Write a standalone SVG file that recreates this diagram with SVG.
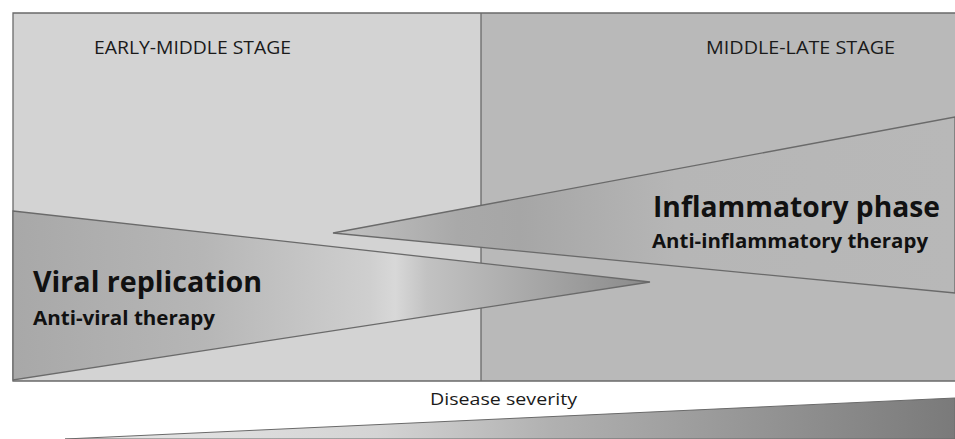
<svg xmlns="http://www.w3.org/2000/svg" width="955" height="439" viewBox="0 0 955 439">
<defs>
<linearGradient id="gViral" gradientUnits="userSpaceOnUse" x1="13" y1="0" x2="650" y2="0">
<stop offset="0" stop-color="#a8a8a8"/>
<stop offset="0.3" stop-color="#b6b6b6"/>
<stop offset="0.56" stop-color="#cfcfcf"/>
<stop offset="0.6" stop-color="#d8d8d8"/>
<stop offset="0.65" stop-color="#c2c2c2"/>
<stop offset="1" stop-color="#8a8a8a"/>
</linearGradient>
<linearGradient id="gInfl" gradientUnits="userSpaceOnUse" x1="333" y1="0" x2="955" y2="0">
<stop offset="0" stop-color="#c2c2c2"/>
<stop offset="0.2" stop-color="#a9a9a9"/>
<stop offset="0.3" stop-color="#a6a6a6"/>
<stop offset="0.55" stop-color="#b6b6b6"/>
<stop offset="1" stop-color="#b8b8b8"/>
</linearGradient>
<linearGradient id="gSev" gradientUnits="userSpaceOnUse" x1="65" y1="0" x2="955" y2="0">
<stop offset="0" stop-color="#e8e8e8"/>
<stop offset="0.35" stop-color="#d4d4d4"/>
<stop offset="0.55" stop-color="#b0b0b0"/>
<stop offset="1" stop-color="#7a7a7a"/>
</linearGradient>
<style>
.edge{stroke:#6a6a6a;stroke-width:1.3}
.stage{font-family:"Open Sans","Liberation Sans",sans-serif;font-size:19px;fill:#1a1a1a}
.big{font-family:"Open Sans","Liberation Sans",sans-serif;font-weight:bold;font-size:28px;fill:#111}
.sub{font-family:"Open Sans","Liberation Sans",sans-serif;font-weight:bold;font-size:19px;fill:#111}
.sev{font-family:"Open Sans","Liberation Sans",sans-serif;font-size:17px;fill:#1a1a1a}
</style>
</defs>
<rect width="955" height="439" fill="#ffffff"/>
<g id="early-panel">
<rect x="13" y="13" width="468" height="368" fill="#d3d3d3"/>
</g>
<g id="late-panel">
<rect x="481" y="13" width="474" height="368" fill="#b9b9b9"/>
</g>
<g id="frame">
<path d="M955 13 H13 V381 H955" fill="none" class="edge"/>
<line x1="481" y1="13" x2="481" y2="381" class="edge"/>
</g>
<g id="inflammatory">
<polygon points="333,233 955,117 955,293" fill="url(#gInfl)" class="edge"/>
</g>
<g id="viral">
<polygon points="13,211 650,282 13,380" fill="url(#gViral)" class="edge"/>
</g>
<g id="labels">
<text x="94" y="54" class="stage" textLength="197" lengthAdjust="spacingAndGlyphs">EARLY-MIDDLE STAGE</text>
<text x="706" y="54" class="stage" textLength="189" lengthAdjust="spacingAndGlyphs">MIDDLE-LATE  STAGE</text>
<text x="653" y="217" class="big" textLength="287" lengthAdjust="spacingAndGlyphs">Inflammatory phase</text>
<text x="652" y="248" class="sub" textLength="276" lengthAdjust="spacingAndGlyphs">Anti-inflammatory therapy</text>
<text x="33" y="292" class="big" textLength="229" lengthAdjust="spacingAndGlyphs">Viral replication</text>
<text x="33" y="325" class="sub" textLength="182" lengthAdjust="spacingAndGlyphs">Anti-viral therapy</text>
</g>
<g id="severity">
<polygon points="65,439 955,398 955,439" fill="url(#gSev)" stroke="#6a6a6a" stroke-width="1"/>
<text x="430" y="405" class="sev" textLength="147" lengthAdjust="spacingAndGlyphs">Disease severity</text>
</g>
</svg>
